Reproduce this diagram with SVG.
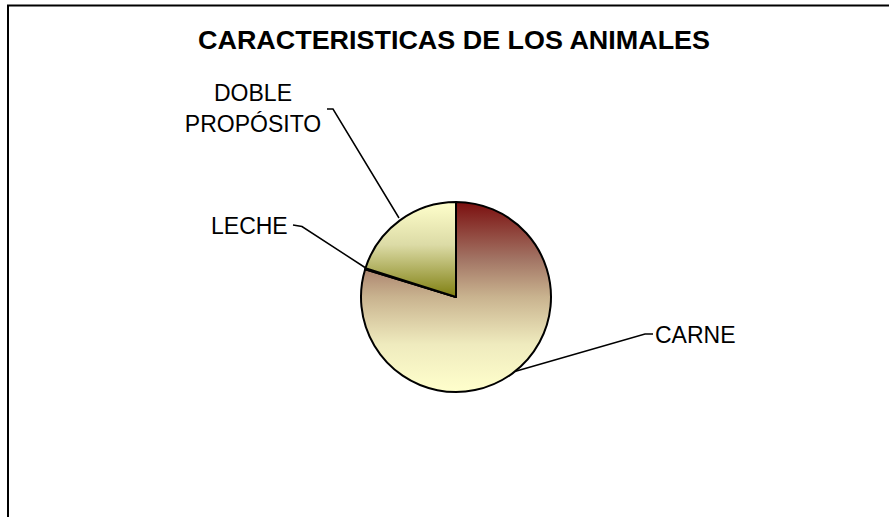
<svg xmlns="http://www.w3.org/2000/svg" width="889" height="517" viewBox="0 0 889 517">
  <defs>
    <linearGradient id="gCarne" x1="0" y1="202" x2="0" y2="392" gradientUnits="userSpaceOnUse">
      <stop offset="0" stop-color="#7b0f0f"/>
      <stop offset="0.3" stop-color="#a27464"/>
      <stop offset="0.5" stop-color="#c9b38f"/>
      <stop offset="0.75" stop-color="#efebbe"/>
      <stop offset="1" stop-color="#ffffcc"/>
    </linearGradient>
    <linearGradient id="gDoble" x1="0" y1="202" x2="0" y2="297" gradientUnits="userSpaceOnUse">
      <stop offset="0" stop-color="#ffffcc"/>
      <stop offset="0.45" stop-color="#dcdba6"/>
      <stop offset="1" stop-color="#7f7f10"/>
    </linearGradient>
    <linearGradient id="gLeche" x1="0" y1="202" x2="0" y2="392" gradientUnits="userSpaceOnUse">
      <stop offset="0" stop-color="#8a8a20"/>
      <stop offset="1" stop-color="#c8c890"/>
    </linearGradient>
  </defs>
  <style>
    .frame { fill: none; stroke: #000; stroke-width: 2; }
    .slice { stroke: #000; stroke-width: 2; stroke-linejoin: round; }
    .leader { fill: none; stroke: #000; stroke-width: 1.5; }
    .title { font-family: "Liberation Sans", Arial, sans-serif; font-weight: bold; font-size: 25px; fill: #000; }
    .label { font-family: "Liberation Sans", Arial, sans-serif; font-size: 23px; fill: #000; }
  </style>
  <rect width="889" height="517" fill="#ffffff"/>
  <path class="frame" d="M8,517 V5.5 H889"/>
  <text class="title" x="454" y="49" text-anchor="middle" textLength="512" lengthAdjust="spacingAndGlyphs">CARACTERISTICAS DE LOS ANIMALES</text>

  <g id="connectors">
    <polyline class="leader" points="513,372 645,334 653,334"/>
    <polyline class="leader" points="399,218 333,109 327,109"/>
    <polyline class="leader" points="293,225 302,226.5 365,267.5"/>
  </g>

  <g id="carne">
    <path class="slice" fill="url(#gCarne)" d="M456,297 L456,202 A95,95 0 1 1 365.15,269.22 Z"/>
    <text class="label" x="655" y="342.5">CARNE</text>
  </g>
  <g id="leche">
    <path class="slice" fill="url(#gLeche)" d="M456,297 L365.15,269.22 A95,95 0 0 1 365.45,268.27 Z"/>
    <text class="label" x="211" y="234">LECHE</text>
  </g>
  <g id="doble-proposito">
    <path class="slice" fill="url(#gDoble)" d="M456,297 L365.45,268.27 A95,95 0 0 1 456,202 Z"/>
    <text class="label" x="253" y="100.5" text-anchor="middle">DOBLE</text>
    <text class="label" x="253" y="131.5" text-anchor="middle">PROPÓSITO</text>
  </g>
</svg>
